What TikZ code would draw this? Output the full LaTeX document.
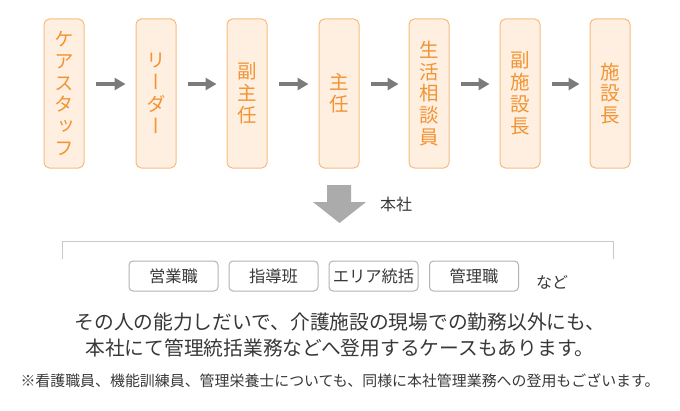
\documentclass[tikz,border=0pt]{standalone}
\usepackage{fontspec}
\setmainfont{Noto Sans CJK JP}
\newfontfamily\tatefont[RawFeature=+vert]{Noto Sans CJK JP}
\usepackage{tikz}
\usetikzlibrary{arrows.meta}

\definecolor{kfill}{HTML}{FEEFE1}
\definecolor{kdraw}{HTML}{F6BC7E}
\definecolor{korange}{HTML}{F29433}
\definecolor{arrowgray}{HTML}{7B7B7B}
\definecolor{blockgray}{HTML}{ABABAB}
\definecolor{linegray}{HTML}{C9C9C9}
\definecolor{tagdraw}{HTML}{B3B3B3}
\definecolor{textgray}{HTML}{383838}

\tikzset{
	stagebox/.style={draw=kdraw, fill=kfill, line width=0.75pt, rounded corners=4pt,
		minimum width=30pt, minimum height=111.75pt, inner sep=0pt, align=center,
		text=korange, font=\tatefont\fontsize{14.6}{16.4}\selectfont},
	flowarrow/.style={arrowgray, line width=2.6pt,
		-{Triangle[length=8.25pt, width=9pt]}, shorten <=8.25pt, shorten >=7.5pt},
	tagbox/.style={draw=tagdraw, fill=white, line width=0.75pt, rounded corners=3pt,
		minimum width=66.75pt, minimum height=22.5pt, inner sep=0pt,
		text=textgray, font=\fontsize{12.2}{14}\selectfont},
	plain/.style={draw=none, fill=none, text=textgray, inner sep=0pt}
}

\begin{document}
\begin{tikzpicture}[x=0.75pt, y=-0.75pt]
	\useasboundingbox (0,0) rectangle (680,410);

	%genba
	\node[stagebox] (staff)     at (64, 93.5)  {ケ\\ア\\ス\\タ\\ッ\\フ};
	\node[stagebox] (leader)    at (156, 93.5) {リ\\ー\\ダ\\ー};
	\node[stagebox] (subchief)  at (247, 93.5) {副\\主\\任};
	\node[stagebox] (chief)     at (339, 93.5) {主\\任};
	\node[stagebox] (counselor) at (429, 93.5) {生\\活\\相\\談\\員};
	\node[stagebox] (subdir)    at (520, 93.5) {副\\施\\設\\長};
	\node[stagebox] (director)  at (610, 93.5) {施\\設\\長};

	\draw[flowarrow] ([yshift=7.1pt]staff.east)     -- ([yshift=7.1pt]leader.west);
	\draw[flowarrow] ([yshift=7.1pt]leader.east)    -- ([yshift=7.1pt]subchief.west);
	\draw[flowarrow] ([yshift=7.1pt]subchief.east)  -- ([yshift=7.1pt]chief.west);
	\draw[flowarrow] ([yshift=7.1pt]chief.east)     -- ([yshift=7.1pt]counselor.west);
	\draw[flowarrow] ([yshift=7.1pt]counselor.east) -- ([yshift=7.1pt]subdir.west);
	\draw[flowarrow] ([yshift=7.1pt]subdir.east)    -- ([yshift=7.1pt]director.west);

	%honsha
	\fill[blockgray] (327,185) -- (351,185) -- (351,202) -- (366,202)
		-- (339.5,223) -- (313,202) -- (327,202) -- cycle;
	\node[plain, font=\fontsize{12}{14}\selectfont] (honsha) at (396, 204) {本社};

	\draw[linegray, line width=0.75pt] (62,259) -- (62,241) -- (613,241) -- (613,259);

	\node[tagbox] (sales)   at (173.5, 276) {営業職};
	\node[tagbox] (guide)   at (273.5, 276) {指導班};
	\node[tagbox] (area)    at (373.5, 276) {エリア統括};
	\node[tagbox] (manager) at (474, 276)   {管理職};
	\node[plain, font=\fontsize{12}{14}\selectfont] (etc) at (552, 282) {など};

	%setsumei
	\node[plain, align=center, font=\fontsize{14.8}{19.5}\selectfont] (note) at (340, 335)
		{その人の能力しだいで、介護施設の現場での勤務以外にも、\\本社にて管理統括業務などへ登用するケースもあります。};
	\node[plain, font=\fontsize{11.2}{13}\selectfont] (footnote) at (340, 381)
		{※看護職員、機能訓練員、管理栄養士についても、同様に本社管理業務への登用もございます。};

\end{tikzpicture}
\end{document}
